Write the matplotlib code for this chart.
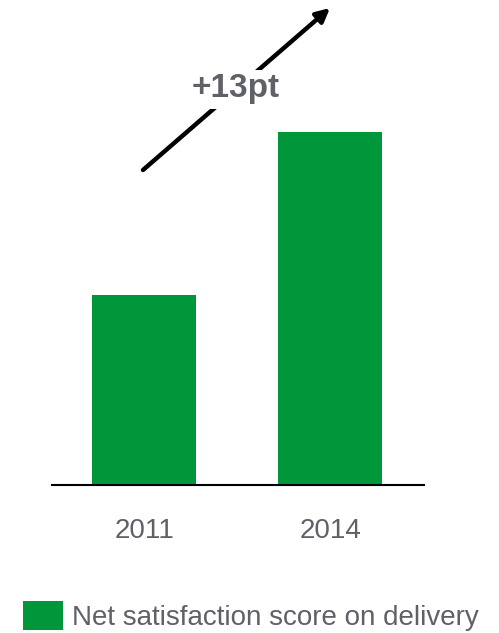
import matplotlib
matplotlib.use("Agg")
import matplotlib.pyplot as plt
from matplotlib.patches import Patch

categories = ["2011", "2014"]
values = [15.0, 28.0]
series_name = "Net satisfaction score on delivery"
change_label = "+13pt"

W, H = 499, 633
fig = plt.figure(figsize=(W / 100, H / 100), dpi=100)
plt.rcParams['font.family'] = ['Liberation Sans', 'DejaVu Sans']

green = "#00963a"
gray = "#606168"

ax = fig.add_axes([52 / W, (H - 484.5) / H, 372 / W, 484.5 / H])
x = list(range(len(categories)))
ax.bar(x, values, width=0.559, color=green, zorder=2)
ax.set_xlim(-0.495, 1.505)
ax.set_ylim(0, 38.45)
for s in ["top", "right", "left"]:
    ax.spines[s].set_visible(False)
ax.spines["bottom"].set_color("black")
ax.spines["bottom"].set_linewidth(1.5)
ax.set_yticks([])
ax.set_xticks(x)
ax.set_xticklabels(categories, fontsize=20, color=gray)
ax.tick_params(axis="x", length=0, pad=24)

# growth arrow
ax.annotate("", xy=(330 / W, 1 - 8 / H), xycoords="figure fraction",
            xytext=(143 / W, 1 - 170 / H), textcoords="figure fraction",
            arrowprops=dict(arrowstyle="-|>,head_length=0.8,head_width=0.4",
                            color="black", lw=3.2, shrinkA=0, shrinkB=0),
            annotation_clip=False)
fig.text(236 / W, 1 - 89 / H, change_label, ha="center", va="center",
         fontsize=24, fontweight="bold", color=gray,
         bbox=dict(facecolor="white", edgecolor="none", pad=3))

handle = Patch(facecolor=green, edgecolor="none")
fig.legend([handle], [series_name], loc="center left",
           bbox_to_anchor=(23 / W, 1 - 616 / H), frameon=False,
           fontsize=20, labelcolor=gray, handlelength=1.44, handleheight=1.25,
           handletextpad=0.32, borderaxespad=0, borderpad=0)

fig.savefig("out.png", dpi=100, facecolor="white")
